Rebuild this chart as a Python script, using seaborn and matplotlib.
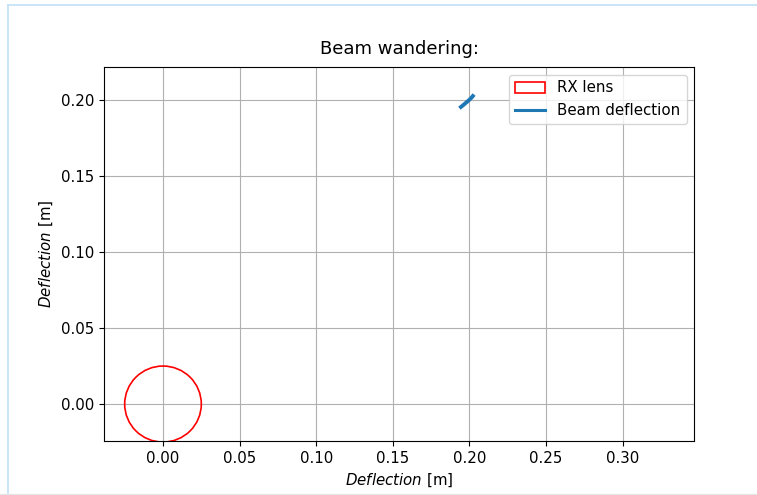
import matplotlib
matplotlib.use("Agg")
import matplotlib.pyplot as plt
from matplotlib.patches import Circle
from matplotlib.lines import Line2D
import seaborn as sns
import pandas as pd

# Data
lens_center = (0.0, 0.0)
lens_radius = 0.025
beam_x = [0.1944, 0.1960, 0.1975, 0.1990, 0.2003, 0.2012, 0.2022]
beam_y = [0.1954, 0.1967, 0.1980, 0.1993, 0.2005, 0.2014, 0.2026]
title = "Beam wandering:"
xlabel = "$Deflection$ [m]"
ylabel = "$Deflection$ [m]"
xticks = [0.0, 0.05, 0.10, 0.15, 0.20, 0.25, 0.30]
yticks = [0.0, 0.05, 0.10, 0.15, 0.20]

plt.rcParams["font.size"] = 10.8
plt.rcParams["mathtext.fontset"] = "dejavusans"

fig = plt.figure(figsize=(7.57, 4.95), dpi=100)
ax = fig.add_axes([104/757, 1 - 441/495, (694 - 104)/757, (441 - 67)/495])

lens = Circle(lens_center, lens_radius, fill=False, edgecolor="red", linewidth=1.2, label="RX lens")
ax.add_patch(lens)

df = pd.DataFrame({"x": beam_x, "y": beam_y})
sns.lineplot(data=df, x="x", y="y", sort=False, estimator=None, ax=ax,
             color="#1f77b4", linewidth=2.8, label="Beam deflection")

ax.set_xlim(-0.0385, 0.3465)
ax.set_ylim(-0.0243, 0.2217)
ax.set_xticks(xticks)
ax.set_xticklabels([f"{t:.2f}" for t in xticks])
ax.set_yticks(yticks)
ax.set_yticklabels([f"{t:.2f}" for t in yticks])
ax.tick_params(labelsize=10.8)
ax.grid(True, color="#b0b0b0", linewidth=0.8)
ax.set_axisbelow(True)
ax.set_title(title, fontsize=13, pad=9)
ax.set_xlabel(xlabel, fontsize=10.8)
ax.set_ylabel(ylabel, fontsize=10.8)

ax.legend(handles=[lens, Line2D([], [], color="#1f77b4", linewidth=2.2)],
          labels=["RX lens", "Beam deflection"], loc="upper right", fontsize=10.8)

# Notebook frame lines
fig.add_artist(Line2D([8/757, 8/757], [0, 1 - 5/495], color="#bfe0f7", linewidth=1.2, transform=fig.transFigure))
fig.add_artist(Line2D([8/757, 1], [1 - 5/495, 1 - 5/495], color="#bfe0f7", linewidth=1.2, transform=fig.transFigure))
fig.add_artist(Line2D([0, 1], [1.5/495, 1.5/495], color="#e6e6e6", linewidth=1.0, transform=fig.transFigure))

fig.savefig("out.png", dpi=100)
